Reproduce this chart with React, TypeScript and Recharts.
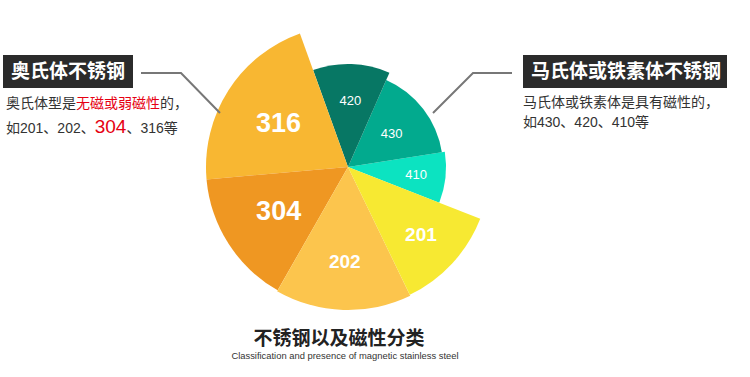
import React from "react";
import { PieChart, Pie, Cell } from "recharts";

// 钢种, 扇区角度份额 (度), 扇区半径
const grades = ["410", "430", "420", "316", "304", "202", "201"];
const shares = [30.3, 57.4, 43.5, 75.2, 55.3, 55.5, 42.8];
const radii = [98, 95, 103, 142, 142, 143, 142];

const COLORS = ["#0ce3c1", "#02aa8e", "#077764", "#f8b732", "#ef9722", "#fcc54d", "#f7e932"];
const LABEL_POS = [0.7, 0.58, 0.65, 0.58, 0.58, 0.66, 0.7];
const LABEL_SIZE = [13, 13, 13, 27, 27, 19, 19];

const FONT = '"Liberation Sans", Arial, "Noto Sans CJK SC", sans-serif';
const RAD = Math.PI / 180;

const data = grades.map((g, i) => ({ name: g, share: shares[i] }));

const makeLabel = (slice: number) => (props: any) => {
  const { cx, cy, midAngle, outerRadius, index } = props;
  if (index !== slice) return null;
  const r = outerRadius * LABEL_POS[slice];
  const x = cx + r * Math.cos(-midAngle * RAD);
  const y = cy + r * Math.sin(-midAngle * RAD);
  const big = LABEL_SIZE[slice] > 14;
  return (
    <text x={x} y={y} fill="#fff" textAnchor="middle" dominantBaseline="central"
      style={{ fontSize: LABEL_SIZE[slice], fontWeight: big ? 700 : 400, fontFamily: FONT }}>
      {grades[slice]}
    </text>
  );
};

const boxStyle: React.CSSProperties = {
  position: "absolute", top: 55, height: 33, background: "#2b2b2b", color: "#fff",
  fontSize: 19, fontWeight: 700, lineHeight: "33px", fontFamily: FONT, padding: "0 8px",
  boxSizing: "border-box", whiteSpace: "nowrap",
};
const txtStyle: React.CSSProperties = {
  position: "absolute", fontSize: 14, lineHeight: "20px", color: "#333", fontFamily: FONT, whiteSpace: "nowrap",
};

export default function App() {
  return (
    <div style={{ position: "absolute", left: 0, top: 0, width: 750, height: 377, background: "#fff", overflow: "hidden" }}>
      <PieChart width={750} height={377} margin={{ top: 0, right: 0, bottom: 0, left: 0 }}>
        {grades.map((g, i) => (
          <Pie key={g} data={data} dataKey="share" nameKey="name" cx={348} cy={167}
            innerRadius={0} outerRadius={radii[i]} startAngle={-21.4} endAngle={338.6}
            stroke="none" label={makeLabel(i)} labelLine={false} isAnimationActive={false}>
            {data.map((d, j) => (
              <Cell key={d.name} fill={j === i ? COLORS[i] : "none"} />
            ))}
          </Pie>
        ))}
      </PieChart>

      <svg width={750} height={377} style={{ position: "absolute", left: 0, top: 0, pointerEvents: "none" }}>
        <polyline points="141,73 181,73 220,113" fill="none" stroke="#777" strokeWidth={2} />
        <polyline points="512,73 473,73 433,113" fill="none" stroke="#777" strokeWidth={2} />
      </svg>

      <div style={{ ...boxStyle, left: 3, width: 130 }}>奥氏体不锈钢</div>
      <div style={{ ...txtStyle, left: 6, top: 93 }}>
        奥氏体型是<span style={{ color: "#e60012" }}>无磁或弱磁性</span>的，
      </div>
      <div style={{ ...txtStyle, left: 6, top: 117 }}>
        如201、202、<span style={{ color: "#e60012", fontSize: 19 }}>304</span>、316等
      </div>

      <div style={{ ...boxStyle, left: 523, width: 204 }}>马氏体或铁素体不锈钢</div>
      <div style={{ ...txtStyle, left: 523, top: 92 }}>马氏体或铁素体是具有磁性的，</div>
      <div style={{ ...txtStyle, left: 523, top: 112 }}>如430、420、410等</div>

      <div style={{ position: "absolute", left: 0, width: 678, top: 329, height: 20, lineHeight: "20px", textAlign: "center", fontSize: 19, fontWeight: 700, color: "#222", fontFamily: FONT }}>
        不锈钢以及磁性分类
      </div>
      <div style={{ position: "absolute", left: 0, width: 690, top: 350, height: 11, lineHeight: "11px", textAlign: "center", fontSize: 9.4, color: "#333", fontFamily: FONT }}>
        Classification and presence of magnetic stainless steel
      </div>
    </div>
  );
}
